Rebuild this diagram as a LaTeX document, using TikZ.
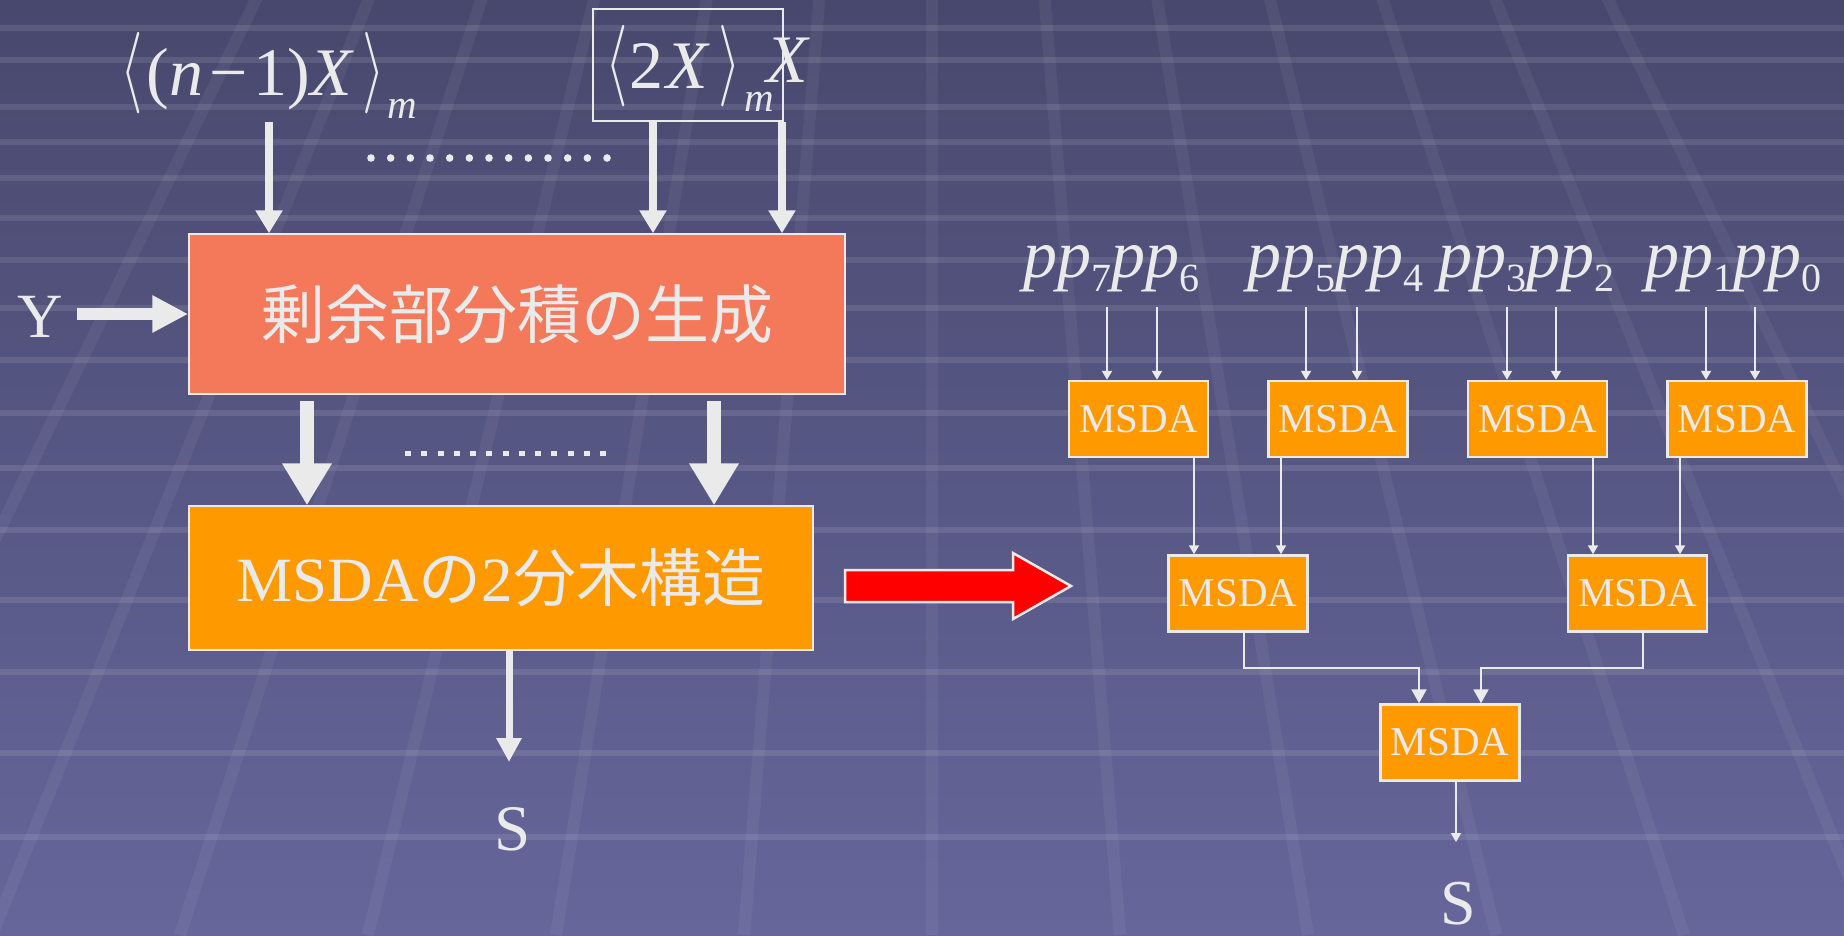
\documentclass[tikz,border=0pt]{standalone}
\usepackage{fix-cm}
\usepackage{graphicx}
\usepackage{fontspec}
\setmainfont{Liberation Serif}
\newfontfamily\jp{Noto Sans CJK JP}
\usetikzlibrary{arrows.meta,calc}
\definecolor{bgtop}{HTML}{48486E}
\definecolor{bgbot}{HTML}{66669B}
\definecolor{txt}{HTML}{EAEAEA}
\definecolor{coral}{HTML}{F4785A}
\definecolor{orng}{HTML}{FF9900}
\newcommand\brl{\raisebox{2pt}{\scalebox{0.85}[1.2]{$\langle$}}}
\newcommand\brr{\raisebox{2pt}{\scalebox{0.85}[1.2]{$\rangle$}}}
\newcommand\pps[1]{\textit{pp}\raisebox{-14pt}{\fontsize{40}{40}\selectfont #1}}
\tikzset{
  lab/.style={text=txt, inner sep=0pt},
  bigbox/.style={draw=txt, line width=1.5pt, inner sep=0pt, text=txt},
  msda/.style={draw=txt, line width=2.5pt, fill=orng, minimum width=139pt, minimum height=76pt, inner sep=0pt, text=txt, font=\fontsize{41}{41}\selectfont},
  fatY/.style={draw=txt, line width=12pt, -{Triangle[width=35pt,length=36pt]}},
  fatD/.style={draw=txt, line width=14pt, -{Triangle[width=47pt,length=42pt]}},
  thinA/.style={draw=txt, line width=8pt, -{Triangle[width=26pt,length=23pt]}},
  botA/.style={draw=txt, line width=7pt, -{Triangle[width=24pt,length=24pt]}},
  tl/.style={draw=txt, line width=2pt, -{Triangle[width=10pt,length=9pt]}},
  tlb/.style={draw=txt, line width=2pt, -{Triangle[width=15pt,length=14pt]}},
  hstripe/.style={white, opacity=0.10, line width=6pt},
  fan/.style={white, opacity=0.05, line width=12pt}
}
\begin{document}
\begin{tikzpicture}[x=1pt,y=-1pt]
\useasboundingbox (0,0) rectangle (1844,935);
% background
\shade[top color=bgtop, bottom color=bgbot] (0,0) rectangle (1844,935);
\begin{scope}
\clip (0,0) rectangle (1844,935);
\foreach \k in {-6,...,6}{
  \draw[fan] (932+\k*188,935) -- (932,-1400);
}
\foreach \yy in {28,60,107,142,178,218,260,308,360,413,468,530,600,672,753,837}{
  \draw[hstripe] (0,\yy) -- (1844,\yy);
}
\end{scope}

% ---- left diagram ----
\node[lab, anchor=base west] (lbl1) at (120,95)
  {\fontsize{68}{80}\selectfont \brl\hspace{4pt}(\textit{n}\hspace{6pt}−\hspace{6pt}1)\textit{X}\hspace{8pt}\brr\hspace{3pt}\raisebox{-23pt}{\fontsize{41}{41}\selectfont\textit{m}}};
\node[draw=txt, line width=1.5pt, minimum width=190pt, minimum height=112pt, inner sep=0pt] (bx) at (688,65) {};
\node[lab, anchor=base west] (lbl2) at (605,88)
  {\fontsize{68}{80}\selectfont \brl\hspace{2pt}2\hspace{3pt}\textit{X}\hspace{8pt}\brr\hspace{4pt}\raisebox{-23pt}{\fontsize{41}{41}\selectfont\textit{m}}\hspace{-8pt}\raisebox{6pt}{\textit{X}}};

\node[bigbox, fill=coral, minimum width=656pt, minimum height=160pt] (gen) at (517,314)
  {\fontsize{64}{70}\selectfont\jp 剰余部分積の生成};
\node[bigbox, fill=orng, minimum width=624pt, minimum height=144pt] (mt) at (501,578)
  {\fontsize{63}{70}\selectfont MSDA{\jp の}2{\jp 分木構造}};

\node[lab, anchor=base, font=\fontsize{63}{70}\selectfont] (ylab) at (40,337) {Y};
\coordinate (ys) at (77,314);
\draw[fatY] (ys) -- (ys -| gen.west);

\coordinate (t1) at (269,122);
\coordinate (t2) at (653,122);
\coordinate (t3) at (782,122);
\draw[thinA] (t1) -- (t1 |- gen.north);
\draw[thinA] (t2) -- (t2 |- gen.north);
\draw[thinA] (t3) -- (t3 |- gen.north);

\foreach \i in {0,...,12}{
  \fill[txt] (371+\i*19.67,158) circle (3.8pt);
}

\coordinate (d1) at (307,401);
\coordinate (d2) at (714,401);
\draw[fatD] (d1) -- (d1 |- mt.north);
\draw[fatD] (d2) -- (d2 |- mt.north);

\foreach \i in {0,...,12}{
  \fill[txt] (405+\i*16.25,450.5) rectangle (411+\i*16.25,455.5);
}

\coordinate (sL) at (509,762);
\draw[botA] (sL |- mt.south) -- (sL);
\node[lab, anchor=base, font=\fontsize{65}{70}\selectfont] (s1) at (513,850) {S};

% red arrow
\draw[fill=red, draw=txt, line width=2.5pt, line join=miter]
  (845,570) -- (1013,570) -- (1013,553) -- (1071,586) -- (1013,619) -- (1013,602) -- (845,602) -- cycle;

% ---- right diagram ----
\begin{scope}[font=\fontsize{68}{70}\selectfont]
\node[lab, anchor=base west] (p76) at (1023,277) {\pps{7}\pps{6}};
\node[lab, anchor=base west] (p54) at (1247,277) {\pps{5}\pps{4}};
\node[lab, anchor=base west] (p32) at (1438,277) {\pps{3}\pps{2}};
\node[lab, anchor=base west] (p10) at (1645,277) {\pps{1}\pps{0}};
\end{scope}

\node[msda] (m1) at (1138.5,419) {MSDA};
\node[msda] (m2) at (1338,419) {MSDA};
\node[msda] (m3) at (1537.5,419) {MSDA};
\node[msda] (m4) at (1737,419) {MSDA};
\node[msda] (mA) at (1238,593.5) {MSDA};
\node[msda] (mB) at (1637.5,593.5) {MSDA};
\node[msda] (mC) at (1450,742.5) {MSDA};

\foreach \m/\a/\b in {m1/1107/1157, m2/1306/1357, m3/1507/1556, m4/1706/1755}{
  \coordinate (\m a) at (\a,307);
  \coordinate (\m b) at (\b,307);
  \draw[tl] (\m a) -- (\m a |- \m.north);
  \draw[tl] (\m b) -- (\m b |- \m.north);
}

\draw[tl] ([xshift=55.5pt]m1.south) -- ([xshift=55.5pt]m1.south |- mA.north);
\draw[tl] ([xshift=-57pt]m2.south) -- ([xshift=-57pt]m2.south |- mA.north);
\draw[tl] ([xshift=55.5pt]m3.south) -- ([xshift=55.5pt]m3.south |- mB.north);
\draw[tl] ([xshift=-57pt]m4.south) -- ([xshift=-57pt]m4.south |- mB.north);

\coordinate (jy) at (0,668);
\draw[tlb] ([xshift=6pt]mA.south) |- ([xshift=-31pt]mC.north |- jy) -- ([xshift=-31pt]mC.north);
\draw[tlb] ([xshift=5.5pt]mB.south) |- ([xshift=31pt]mC.north |- jy) -- ([xshift=31pt]mC.north);

\coordinate (sR) at (1456,842);
\draw[tl] (sR |- mC.south) -- (sR);
\node[lab, anchor=base, font=\fontsize{64}{70}\selectfont] (s2) at (1458,924) {S};
\end{tikzpicture}
\end{document}
